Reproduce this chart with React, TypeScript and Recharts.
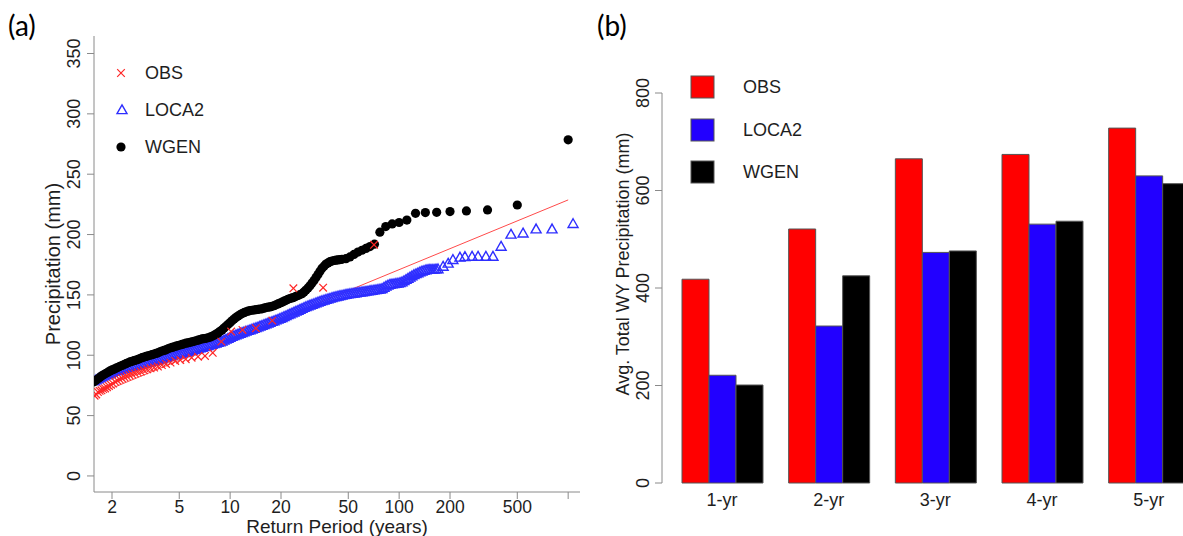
import React from 'react';
import { ScatterChart, Scatter, XAxis, YAxis, BarChart, Bar } from 'recharts';

const FONT = '"Liberation Sans", Arial, Helvetica, sans-serif';
const AXIS_GRAY = '#8a8a8a';
const INK = '#1e1e1e';

// ---- panel (a): annual maxima vs return period ----
const returnTicks = [2, 5, 10, 20, 50, 100, 200, 500, 1000];
const precipTicks = [0, 50, 100, 150, 200, 250, 300, 350];

const obsReturnPeriod = [71, 35.5, 23.67, 17.75, 14.2, 11.83, 10.14, 8.875, 7.889, 7.1, 6.455, 5.917, 5.462, 5.071, 4.733, 4.438, 4.176, 3.944, 3.737, 3.55, 3.381, 3.227, 3.087, 2.958, 2.84, 2.731, 2.63, 2.536, 2.448, 2.367, 2.29, 2.219, 2.152, 2.088, 2.029, 1.972, 1.919, 1.868, 1.821, 1.775, 1.732, 1.69, 1.651, 1.614, 1.578];
const obsPrecip = [191.5, 156, 155.5, 128.7, 122.4, 121, 119.6, 111.3, 102, 99.4, 98.8, 98, 96.7, 96, 95.3, 93.9, 92.8, 91.8, 90.6, 89.8, 89.2, 88.3, 87.5, 86.5, 85.8, 85, 84.2, 83.5, 82.6, 81.8, 81, 80, 79, 78, 76.5, 75.5, 74.5, 73.5, 72.5, 72, 71, 70.5, 69.5, 67.5, 66.5];

// return periods shared by the dense part of both simulated samples
const bandReturnPeriod = [
  1.565, 1.608, 1.653, 1.698, 1.745, 1.793, 1.843, 1.894, 1.946, 2.0,
  2.055, 2.112, 2.17, 2.23, 2.292, 2.355, 2.42, 2.487, 2.556, 2.627,
  2.699, 2.774, 2.85, 2.929, 3.01, 3.093, 3.178, 3.266, 3.356, 3.449,
  3.544, 3.642, 3.743, 3.846, 3.953, 4.062, 4.174, 4.289, 4.408, 4.53,
  4.655, 4.783, 4.915, 5.051, 5.191, 5.334, 5.481, 5.633, 5.788, 5.948,
  6.113, 6.281, 6.455, 6.633, 6.816, 7.005, 7.198, 7.397, 7.601, 7.811,
  8.027, 8.249, 8.477, 8.711, 8.951, 9.199, 9.453, 9.714, 9.982, 10.26,
  10.54, 10.83, 11.13, 11.44, 11.76, 12.08, 12.41, 12.76, 13.11, 13.47,
  13.84, 14.23, 14.62, 15.02, 15.44, 15.86, 16.3, 16.75, 17.21, 17.69,
  18.18, 18.68, 19.2, 19.73, 20.27, 20.83, 21.41, 22.0, 22.61, 23.23,
  23.87, 24.53, 25.21, 25.91, 26.62, 27.36, 28.11, 28.89, 29.69, 30.51,
  31.35, 32.21, 33.1, 34.02, 34.96, 35.92, 36.92, 37.94, 38.98, 40.06,
  41.17, 42.3, 43.47, 44.67, 45.91,
];

const locaReturnPeriod = [
  ...bandReturnPeriod,
  47.18, 48.48, 49.82, 51.19, 52.61, 54.06, 55.55, 57.09, 58.67, 60.29,
  61.95, 63.66, 65.42, 67.23, 69.08, 70.99, 72.95, 74.97, 77.04, 79.17,
  81.35, 83.6, 85.91, 88.28, 90.72, 93.23, 95.8, 98.45, 101.2, 104,
  106.8, 109.8, 112.8, 115.9, 119.1, 122.4, 125.8, 129.3, 132.9, 136.5,
  140.3, 144.2, 148.2, 152.2, 156.5, 160.8, 165.2, 169.8,
  182, 195, 208, 229, 245, 270, 293, 326, 359, 401, 459, 541, 646, 803, 1069,
];
const locaPrecip = [
  78.5, 79.3, 80.2, 81, 81.8, 82.6, 83.4, 84.1, 84.8, 85.5,
  86.3, 86.8, 87.3, 87.8, 88.3, 88.8, 89.3, 89.8, 90.2, 90.6,
  91, 91.4, 91.8, 92.2, 92.6, 93, 93.4, 93.8, 94.2, 94.6,
  95, 95.5, 96, 96.5, 97, 97.5, 98, 98.5, 99, 99.5,
  100, 100.4, 100.8, 101.2, 101.6, 102, 102.4, 102.8, 103.3, 103.8,
  104.3, 104.8, 105.3, 105.8, 106.3, 106.8, 107.3, 107.8, 108.3, 108.8,
  109.3, 109.8, 110.3, 110.9, 111.5, 112.3, 113, 113.8, 114.5, 115.3,
  116, 116.7, 117.3, 117.9, 118.5, 119.1, 119.7, 120.3, 120.8, 121.4,
  122, 122.6, 123.2, 123.9, 124.5, 125.2, 125.8, 126.4, 127, 127.7,
  128.3, 129, 129.6, 130.3, 131, 131.8, 132.5, 133.3, 134, 134.8,
  135.5, 136.3, 137, 137.8, 138.5, 139.3, 140, 140.7, 141.3, 141.9,
  142.5, 143.2, 143.8, 144.4, 145, 145.5, 146, 146.5, 147, 147.5,
  148, 148.4, 148.8, 149.2, 149.5,
  149.9, 150.2, 150.5, 150.8, 151, 151.3, 151.5, 151.8, 152, 152.3,
  152.5, 152.8, 153, 153.3, 153.5, 153.8, 154, 154.3, 154.6, 155,
  156, 157, 157.8, 158.5, 158.8, 159, 159.3, 159.5, 160, 160.5,
  161.5, 162.5, 163.5, 164.5, 165.5, 166.5, 167.3, 168, 168.8, 169.5,
  170, 170.5, 170.8, 171, 171, 171, 171.2, 171.3,
  173.4, 176, 179, 181, 181.5, 181.7, 181.7, 181.7, 181.7, 190, 200, 201, 204.4, 204.4, 208.8,
];

const wgenReturnPeriod = [
  ...bandReturnPeriod,
  48.46, 51.17, 54.04, 57.06, 60.26, 63.63, 67.2,
  71.43, 76.92, 83.33, 90.91, 100, 111.1, 125, 142.9, 166.7, 200, 250, 333.3, 500, 1000,
];
const wgenPrecip = [
  78, 79.3, 80.5, 81.8, 83, 84, 85, 86, 87, 87.8,
  88.5, 89.3, 90, 90.8, 91.5, 92.3, 93, 93.8, 94.5, 95,
  95.5, 96, 96.5, 97.3, 98, 98.5, 99, 99.5, 100, 100.5,
  101, 101.5, 102, 102.8, 103.5, 104, 104.5, 105.3, 106, 106.5,
  107, 107.5, 108, 108.5, 109, 109.5, 110, 110.3, 110.7, 111.1,
  111.5, 112, 112.5, 113, 113.5, 113.8, 114, 114.5, 115, 115.7,
  116.5, 117.5, 118.5, 119.8, 121, 122.5, 124, 125.5, 127, 128.5,
  130, 131.3, 132.5, 133.5, 134.5, 135.3, 136, 136.5, 137, 137.3,
  137.5, 137.8, 138, 138.3, 138.5, 139, 139.5, 139.8, 140, 140.5,
  141, 141.8, 142.5, 143.3, 144, 144.8, 145.5, 146.3, 147, 147.5,
  148, 148.8, 149.5, 150.3, 151, 152.5, 154, 155.8, 157.5, 159.8,
  162, 164.5, 167, 169.5, 172, 173.8, 175.5, 176.5, 177.5, 178,
  178.5, 178.8, 179, 179.3, 179.5,
  180, 181.5, 183.5, 185.5, 187, 188.5, 190,
  192, 202, 206.6, 208.8, 210, 212, 217.6, 218.2, 218.4, 219, 219.6, 220.4, 224.5, 278.5,
];

const fitReturnPeriod = [1.565, 1000];
const fitPrecip = [66.6, 228.7];

// ---- panel (b): average water-year totals ----
const periods = ['1-yr', '2-yr', '3-yr', '4-yr', '5-yr'];
const barObs = [418, 521, 665, 674, 728];
const barLoca = [221, 322, 473, 531, 630];
const barWgen = [201, 425, 476, 537, 614];
const barTicks = [0, 200, 400, 600, 800];

const pts = (ts: number[], vs: number[]) => ts.map((T, i) => ({ T, v: vs[i] }));
const barRows = periods.map((period, i) => ({ period, obs: barObs[i], loca: barLoca[i], wgen: barWgen[i] }));

const RED = '#ff2626';
const BLUE = '#2e2eff';

function XMark({ cx, cy }: any) {
  const s = 3.8;
  return <path d={`M${cx - s},${cy - s}L${cx + s},${cy + s}M${cx - s},${cy + s}L${cx + s},${cy - s}`} stroke={RED} strokeWidth={1.2} fill="none" />;
}
function Tri({ cx, cy }: any) {
  return <path d={`M${cx},${cy - 5.2}L${cx + 5},${cy + 3.6}L${cx - 5},${cy + 3.6}Z`} stroke={BLUE} strokeWidth={1.4} fill="none" />;
}
function Dot({ cx, cy }: any) {
  return <circle cx={cx} cy={cy} r={4.6} fill="#000" />;
}

function LogTick({ x, payload }: any) {
  return <text x={x} y={513} textAnchor="middle" fontSize={17.5} fill={INK} fontFamily={FONT}>{payload.value === 1000 ? '' : payload.value}</text>;
}
function PrecipTick({ y, payload }: any) {
  return <text transform={`translate(80,${y}) rotate(-90)`} textAnchor="middle" fontSize={18} fill={INK} fontFamily={FONT}>{payload.value}</text>;
}
function PeriodTick({ x, payload }: any) {
  return <text x={x} y={506} textAnchor="middle" fontSize={18} fill={INK} fontFamily={FONT}>{payload.value}</text>;
}
// bar chart svg starts at page x = 560
function TotalTick({ y, payload }: any) {
  return <text transform={`translate(89,${y}) rotate(-90)`} textAnchor="middle" fontSize={18} fill={INK} fontFamily={FONT}>{payload.value}</text>;
}

export default function App() {
  return (
    <div style={{ position: 'fixed', left: 0, top: 0, width: 1183, height: 536, overflow: 'hidden', background: '#fff', fontFamily: FONT }}>
      <div style={{ position: 'absolute', left: 0, top: 0 }}>
        <ScatterChart width={590} height={536} margin={{ top: 36, right: 10, bottom: 0, left: 0 }}>
          <XAxis type="number" dataKey="T" scale="log" domain={[1.565, 1175]} allowDataOverflow ticks={returnTicks} interval={0}
            height={44} tickSize={7} axisLine={{ stroke: AXIS_GRAY }} tickLine={{ stroke: AXIS_GRAY }} tick={(p: any) => <LogTick {...p} />} />
          <YAxis type="number" dataKey="v" domain={[-13.3, 364.5]} allowDataOverflow ticks={precipTicks} interval={0}
            width={94} tickSize={7} axisLine={{ stroke: AXIS_GRAY }} tickLine={{ stroke: AXIS_GRAY }} tick={(p: any) => <PrecipTick {...p} />} />
          <XAxis xAxisId="top" orientation="top" type="number" domain={[0, 1]} height={0} tick={false} tickLine={false} axisLine={{ stroke: AXIS_GRAY }} />
          <YAxis yAxisId="right" orientation="right" type="number" domain={[0, 1]} width={0} tick={false} tickLine={false} axisLine={{ stroke: AXIS_GRAY }} />
          <Scatter data={pts(fitReturnPeriod, fitPrecip)} line={{ stroke: '#ff4a4a', strokeWidth: 1 }} shape={() => <g />} isAnimationActive={false} />
          <Scatter data={pts(locaReturnPeriod, locaPrecip)} shape={(p: any) => <Tri {...p} />} isAnimationActive={false} />
          <Scatter data={pts(wgenReturnPeriod, wgenPrecip)} shape={(p: any) => <Dot {...p} />} isAnimationActive={false} />
          <Scatter data={pts(obsReturnPeriod, obsPrecip)} shape={(p: any) => <XMark {...p} />} isAnimationActive={false} />
        </ScatterChart>
      </div>
      <div style={{ position: 'absolute', left: 560, top: 0 }}>
        <BarChart width={660} height={536} data={barRows} margin={{ top: 93, right: 18, bottom: 0, left: 0 }} barCategoryGap="12.5%" barGap={0}>
          <XAxis dataKey="period" axisLine={false} tickLine={false} height={53} padding={{ left: 6.67, right: 0 }} interval={0} tick={(p: any) => <PeriodTick {...p} />} />
          <YAxis type="number" domain={[0, 800]} ticks={barTicks} interval={0} width={102} tickSize={7}
            axisLine={{ stroke: AXIS_GRAY }} tickLine={{ stroke: AXIS_GRAY }} tick={(p: any) => <TotalTick {...p} />} />
          <Bar dataKey="obs" fill="#ff0000" stroke="#555" strokeWidth={1} isAnimationActive={false} />
          <Bar dataKey="loca" fill="#2200ff" stroke="#555" strokeWidth={1} isAnimationActive={false} />
          <Bar dataKey="wgen" fill="#000000" stroke="#555" strokeWidth={1} isAnimationActive={false} />
        </BarChart>
      </div>
      <svg width={1183} height={536} style={{ position: 'absolute', left: 0, top: 0, pointerEvents: 'none' }} fontFamily={FONT}>
        <text x={8} y={36} fontSize={28} fontFamily="Lato, 'Open Sans', sans-serif" fill="#000">(a)</text>
        <text x={597} y={36} fontSize={28} fontFamily="Lato, 'Open Sans', sans-serif" fill="#000">(b)</text>
        <text transform="translate(60,264) rotate(-90)" textAnchor="middle" fontSize={20} fill={INK}>Precipitation (mm)</text>
        <text x={337} y={533} textAnchor="middle" fontSize={19} fill={INK}>Return Period (years)</text>
        <text transform="translate(629,264) rotate(-90)" textAnchor="middle" fontSize={18} fill={INK}>Avg. Total WY Precipitation (mm)</text>
        {/* legend (a) */}
        <XMark cx={121} cy={73} />
        <Tri cx={122} cy={110} />
        <Dot cx={121} cy={147} />
        <text x={145} y={73} dominantBaseline="central" fontSize={18} fill={INK}>OBS</text>
        <text x={145} y={110} dominantBaseline="central" fontSize={18} fill={INK}>LOCA2</text>
        <text x={145} y={147} dominantBaseline="central" fontSize={18} fill={INK}>WGEN</text>
        {/* legend (b) */}
        <rect x={691} y={76} width={23} height={22} fill="#ff0000" stroke="#555" />
        <rect x={691} y={119} width={23} height={22} fill="#2200ff" stroke="#555" />
        <rect x={691} y={161} width={23} height={22} fill="#000000" stroke="#555" />
        <text x={743} y={87} dominantBaseline="central" fontSize={18} fill={INK}>OBS</text>
        <text x={743} y={130} dominantBaseline="central" fontSize={18} fill={INK}>LOCA2</text>
        <text x={743} y={172} dominantBaseline="central" fontSize={18} fill={INK}>WGEN</text>
      </svg>
    </div>
  );
}
